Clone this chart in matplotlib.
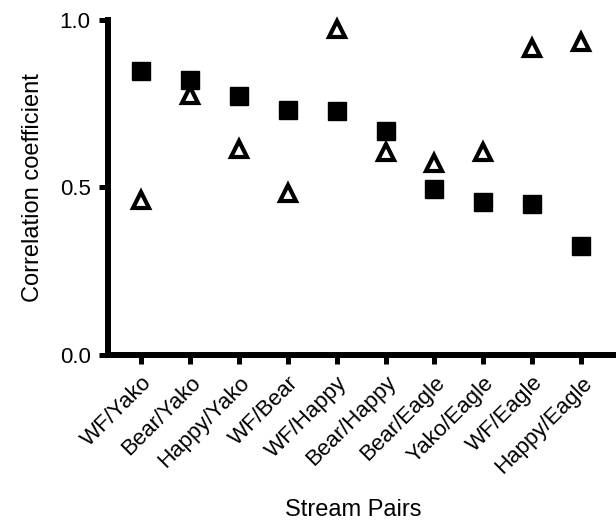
import matplotlib
matplotlib.use('Agg')
import matplotlib.pyplot as plt

# stream pair correlation coefficients
pairs = ['WF/Yako', 'Bear/Yako', 'Happy/Yako', 'WF/Bear', 'WF/Happy',
         'Bear/Happy', 'Bear/Eagle', 'Yako/Eagle', 'WF/Eagle', 'Happy/Eagle']
squares = [0.847, 0.819, 0.772, 0.730, 0.727, 0.669, 0.495, 0.455, 0.450, 0.325]
triangles = [0.462, 0.775, 0.615, 0.484, 0.972, 0.604, 0.573, 0.606, 0.915, 0.933]
yticks = [0.0, 0.5, 1.0]

plt.rcParams['font.family'] = ['Liberation Sans', 'DejaVu Sans']

fig = plt.figure(figsize=(6.16, 5.21), dpi=100)
ax = fig.add_axes([108 / 616, 1 - 355 / 521, (613 - 108) / 616, (355 - 19.5) / 521])

x = list(range(len(pairs)))
ax.plot(x, squares, linestyle='none', marker='s', markersize=12.7,
        color='black', zorder=3, clip_on=False)
ax.plot(x, triangles, linestyle='none', marker='^', markersize=11,
        markerfacecolor='white', markeredgecolor='black', markeredgewidth=3.0,
        zorder=4, clip_on=False)

ax.set_xlim(-0.675, 9.65)
ax.set_ylim(0, 1.0)
ax.set_yticks(yticks)
ax.set_yticklabels([f'{v:.1f}' for v in yticks])
ax.set_xticks(x)
ax.set_xticklabels(pairs, rotation=45, ha='right', va='top', rotation_mode='anchor')

for side in ['top', 'right']:
    ax.spines[side].set_visible(False)
for side in ['left', 'bottom']:
    ax.spines[side].set_linewidth(4.3)
    ax.spines[side].set_capstyle('projecting')

ax.tick_params(axis='both', width=3.6, length=6.5, labelsize=16, color='black')
ax.tick_params(axis='y', pad=6)
ax.tick_params(axis='x', pad=6)

ax.set_ylabel('Correlation coefficient', fontsize=17, labelpad=11)
ax.set_xlabel('Stream Pairs', fontsize=17)
ax.xaxis.set_label_coords(0.485, -0.43)

fig.savefig('out.png', dpi=100)
